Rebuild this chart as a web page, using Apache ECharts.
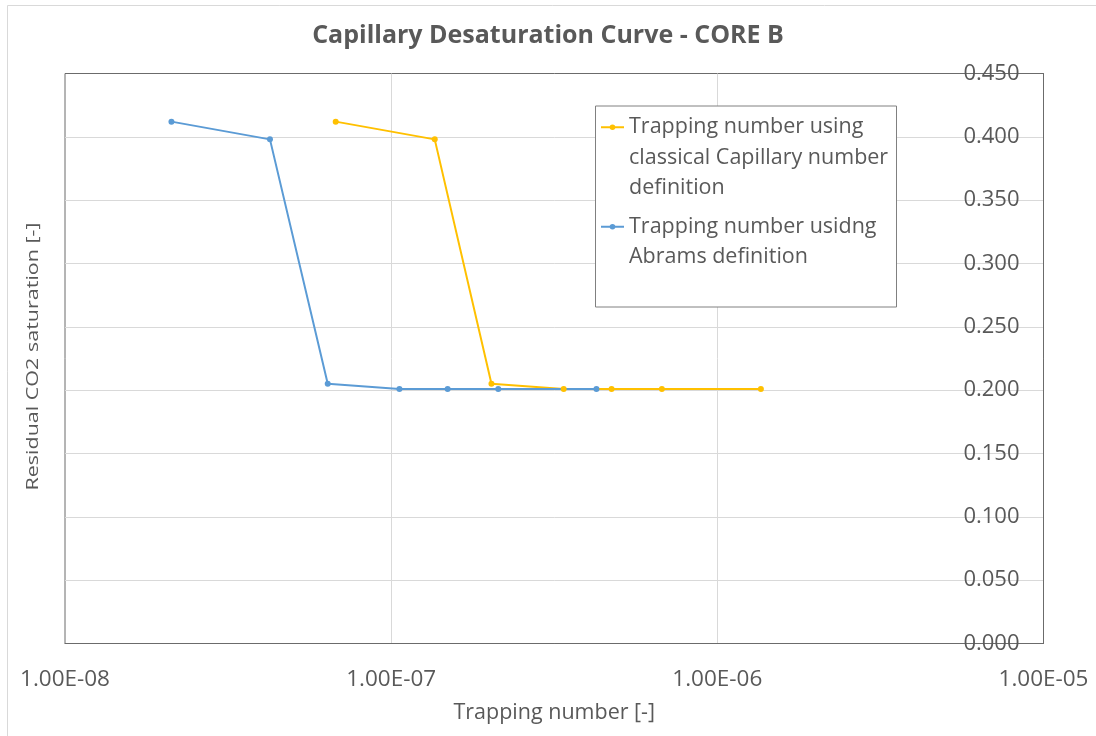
<!DOCTYPE html>
<html>
<head>
<meta charset="utf-8">
<script src="https://cdn.jsdelivr.net/npm/echarts@6/dist/echarts.min.js"></script>
<style>html,body{margin:0;padding:0;background:#fff}#c{width:1096px;height:736px}</style>
</head>
<body>
<div id="c"></div>
<script>
const titleText = 'Capillary Desaturation Curve - CORE B';
const xAxisTitle = 'Trapping number [-]';
const yAxisTitle = 'Residual CO2 saturation [-]';
const seriesNames = [
  'Trapping number using\nclassical Capillary number\ndefinition',
  'Trapping number usidng\nAbrams definition'
];
const classicalX = [6.76e-8, 1.36e-7, 2.03e-7, 3.38e-7, 4.74e-7, 6.76e-7, 1.36e-6];
const classicalY = [0.412, 0.398, 0.205, 0.201, 0.201, 0.201, 0.201];
const abramsX = [2.12e-8, 4.25e-8, 6.39e-8, 1.06e-7, 1.49e-7, 2.13e-7, 4.26e-7];
const abramsY = [0.412, 0.398, 0.205, 0.201, 0.201, 0.201, 0.201];
const xMin = 1e-8, xMax = 1e-5;
const yMin = 0, yMax = 0.45, yStep = 0.05;

const pairs = (xs, ys) => xs.map((x, i) => [x, ys[i]]);
const fmtSci = v => {
  const e = Math.round(Math.log10(v));
  const m = v / Math.pow(10, e);
  return m.toFixed(2) + 'E' + (e < 0 ? '-' : '+') + String(Math.abs(e)).padStart(2, '0');
};

const FONT = '"Open Sans", sans-serif';
const GREY = '#595959';
const FRAME = '#6b6b6b';
const legendText = {fontFamily: FONT, fontSize: 21.5, lineHeight: 30.5, color: GREY};
const chart = echarts.init(document.getElementById('c'), null, {renderer: 'canvas'});
chart.setOption({
  animation: false,
  backgroundColor: '#fff',
  title: {
    text: titleText, left: 'center', top: 23, padding: 0,
    textStyle: {fontFamily: FONT, fontWeight: 'bold', fontSize: 25, color: GREY}
  },
  grid: {
    left: 65, top: 73.5, right: 52.5, bottom: 92.5,
    show: true, borderColor: FRAME, borderWidth: 1,
    outerBoundsMode: 'none', containLabel: false
  },
  legend: [
    {
      data: [seriesNames[0]],
      formatter: n => '\n\n' + n,
      orient: 'vertical', left: 600, top: 51, padding: 0,
      itemWidth: 23, itemHeight: 7, selectedMode: false,
      textStyle: legendText
    },
    {
      data: [seriesNames[1]],
      formatter: n => '\n' + n,
      orient: 'vertical', left: 600, top: 181, padding: 0,
      itemWidth: 23, itemHeight: 7, selectedMode: false,
      textStyle: legendText
    }
  ],
  graphic: [
    {type: 'rect', z: -10, silent: true,
     shape: {x: 7.5, y: 5.5, width: 1100, height: 740},
     style: {fill: 'none', stroke: '#d9d9d9', lineWidth: 1}},
    {type: 'rect', z: 3, silent: true,
     shape: {x: 595.5, y: 106, width: 301, height: 201},
     style: {fill: '#fff', stroke: '#808080', lineWidth: 1}},
    {type: 'text', z: 3, silent: true, x: 34, y: 356.5, rotation: Math.PI / 2, scaleY: 0.73,
     style: {text: yAxisTitle, font: '21.5px "Open Sans", sans-serif', fill: GREY, align: 'center', verticalAlign: 'middle'}}
  ],
  xAxis: {
    type: 'log', logBase: 10, min: xMin, max: xMax,
    name: xAxisTitle, nameLocation: 'middle', nameGap: 58,
    nameTextStyle: {fontFamily: FONT, fontSize: 21.5, color: GREY},
    axisLine: {show: true, onZero: false, lineStyle: {color: FRAME, width: 1}}, axisTick: {show: false},
    axisLabel: {formatter: fmtSci, fontFamily: FONT, fontSize: 22.5, color: GREY, margin: 25,
                showMinLabel: true, showMaxLabel: true},
    splitLine: {show: true, showMinLine: false, showMaxLine: false, lineStyle: {color: '#d9d9d9', width: 1}},
    minorTick: {show: false}, minorSplitLine: {show: false}
  },
  yAxis: {
    type: 'value', position: 'right', min: yMin, max: yMax, interval: yStep,
    axisLine: {show: true, onZero: false, lineStyle: {color: FRAME, width: 1}}, axisTick: {show: false},
    axisLabel: {inside: true, formatter: v => v.toFixed(3), fontFamily: FONT, fontSize: 22, color: GREY,
                margin: 24, showMinLabel: true, showMaxLabel: true},
    splitLine: {show: true, showMinLine: false, showMaxLine: false, lineStyle: {color: '#d9d9d9', width: 1}}
  },
  series: [
    {
      name: seriesNames[0], type: 'line', data: pairs(classicalX, classicalY),
      symbol: 'circle', symbolSize: 6, showSymbol: true,
      lineStyle: {color: '#FFC000', width: 2}, itemStyle: {color: '#FFC000'},
      emphasis: {disabled: true}
    },
    {
      name: seriesNames[1], type: 'line', data: pairs(abramsX, abramsY),
      symbol: 'circle', symbolSize: 6, showSymbol: true,
      lineStyle: {color: '#5B9BD5', width: 2}, itemStyle: {color: '#5B9BD5'},
      emphasis: {disabled: true}
    }
  ]
});
</script>
</body>
</html>
